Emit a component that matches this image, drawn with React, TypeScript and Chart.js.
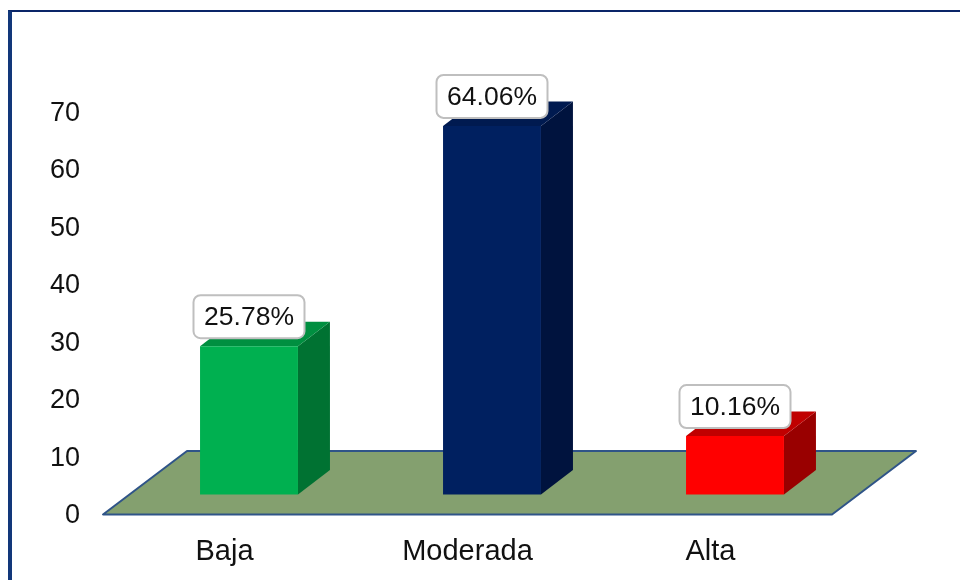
import React, { useEffect, useRef } from "react";
import { Chart, registerables } from "chart.js";

Chart.register(...registerables);

const categories = ["Baja", "Moderada", "Alta"];
const percentages = [25.78, 64.06, 10.16];
const yTicks = [0, 10, 20, 30, 40, 50, 60, 70];

const frontColors = ["#00b050", "#002060", "#ff0000"];
const topColors = ["#008f40", "#001a50", "#c00000"];
const sideColors = ["#007232", "#00133e", "#990000"];

const FONT = "'Liberation Sans', Arial, sans-serif";
const FLOOR_DX = 84;
const FLOOR_DY = -63.5;
const BAR_SHIFT_X = 24.5;
const BAR_SHIFT_Y = -20;
const DEPTH_X = 32;
const DEPTH_Y = -24.5;

const poly = (ctx: CanvasRenderingContext2D, pts: number[][], fill: string) => {
  ctx.beginPath();
  pts.forEach(([x, y], i) => (i ? ctx.lineTo(x, y) : ctx.moveTo(x, y)));
  ctx.closePath();
  ctx.fillStyle = fill;
  ctx.fill();
};

const bars3d = {
  id: "bars3d",
  beforeDatasetsDraw(chart: any) {
    const { ctx, chartArea, scales } = chart;
    const y0 = scales.y.getPixelForValue(0);
    const l = chartArea.left;
    const r = chartArea.right;
    ctx.save();
    const pts = [
      [l, y0],
      [r, y0],
      [r + FLOOR_DX, y0 + FLOOR_DY],
      [l + FLOOR_DX, y0 + FLOOR_DY],
    ];
    poly(ctx, pts, "#84a06f");
    ctx.strokeStyle = "#2f5488";
    ctx.lineWidth = 2;
    ctx.lineJoin = "round";
    ctx.stroke();
    ctx.restore();
  },
  beforeDatasetDraw(chart: any, args: any) {
    const { ctx } = chart;
    ctx.save();
    ctx.translate(BAR_SHIFT_X, BAR_SHIFT_Y);
    args.meta.data.forEach((el: any, i: number) => {
      const left = el.x - el.width / 2;
      const right = el.x + el.width / 2;
      const top = el.y;
      const base = el.base;
      poly(ctx, [
        [right, top],
        [right + DEPTH_X, top + DEPTH_Y],
        [right + DEPTH_X, base + DEPTH_Y],
        [right, base],
      ], sideColors[i]);
      poly(ctx, [
        [left, top],
        [left + DEPTH_X, top + DEPTH_Y],
        [right + DEPTH_X, top + DEPTH_Y],
        [right, top],
      ], topColors[i]);
    });
  },
  afterDatasetDraw(chart: any) {
    chart.ctx.restore();
  },
  afterDatasetsDraw(chart: any) {
    const { ctx } = chart;
    const meta = chart.getDatasetMeta(0);
    ctx.save();
    meta.data.forEach((el: any, i: number) => {
      const w = 111;
      const h = 43;
      const cx = el.x + BAR_SHIFT_X;
      const bottom = el.y + BAR_SHIFT_Y - 8;
      ctx.beginPath();
      ctx.roundRect(cx - w / 2, bottom - h, w, h, 7);
      ctx.fillStyle = "#ffffff";
      ctx.fill();
      ctx.strokeStyle = "#bfbfbf";
      ctx.lineWidth = 2;
      ctx.stroke();
      ctx.fillStyle = "#111111";
      ctx.font = `26.5px ${FONT}`;
      ctx.textAlign = "center";
      ctx.textBaseline = "middle";
      ctx.fillText(`${percentages[i].toFixed(2)}%`, cx, bottom - h / 2 + 1);
    });
    ctx.restore();
  },
};

export default function App() {
  const ref = useRef<HTMLCanvasElement>(null);
  useEffect(() => {
    const chart = new Chart(ref.current as HTMLCanvasElement, {
      type: "bar",
      data: {
        labels: categories,
        datasets: [
          {
            data: percentages,
            backgroundColor: frontColors,
            borderWidth: 0,
            barPercentage: 0.403,
            categoryPercentage: 1,
            clip: false,
          } as any,
        ],
      },
      options: {
        animation: false,
        responsive: false,
        layout: { padding: { top: 111.7, right: 128, left: 0, bottom: 0 } },
        plugins: { legend: { display: false }, tooltip: { enabled: false }, title: { display: false } },
        scales: {
          x: {
            grid: { display: false, drawTicks: false },
            border: { display: false },
            ticks: { color: "#111111", font: { family: FONT, size: 29 }, padding: 20, maxRotation: 0 },
            afterFit: (s: any) => { s.height = 65.5; },
          },
          y: {
            min: 0,
            max: 70,
            afterBuildTicks: (s: any) => { s.ticks = yTicks.map((value) => ({ value })); },
            grid: { display: false, drawTicks: false },
            border: { display: false },
            ticks: { color: "#111111", font: { family: FONT, size: 27 }, padding: 23, labelOffset: 1.5 },
            afterFit: (s: any) => { s.width = 103; },
          },
        },
      },
      plugins: [bars3d],
    } as any);
    return () => chart.destroy();
  }, []);
  return (
    <div style={{ position: "absolute", left: 0, top: 0, width: 960, height: 580, background: "#fff", overflow: "hidden" }}>
      <canvas ref={ref} width={960} height={580} style={{ position: "absolute", left: 0, top: 0, display: "block" }} />
      <div style={{ position: "absolute", left: 8, top: 10, right: 0, bottom: 0, borderTop: "2px solid #0a2568", borderLeft: "4px solid #12377a" }} />
    </div>
  );
}
